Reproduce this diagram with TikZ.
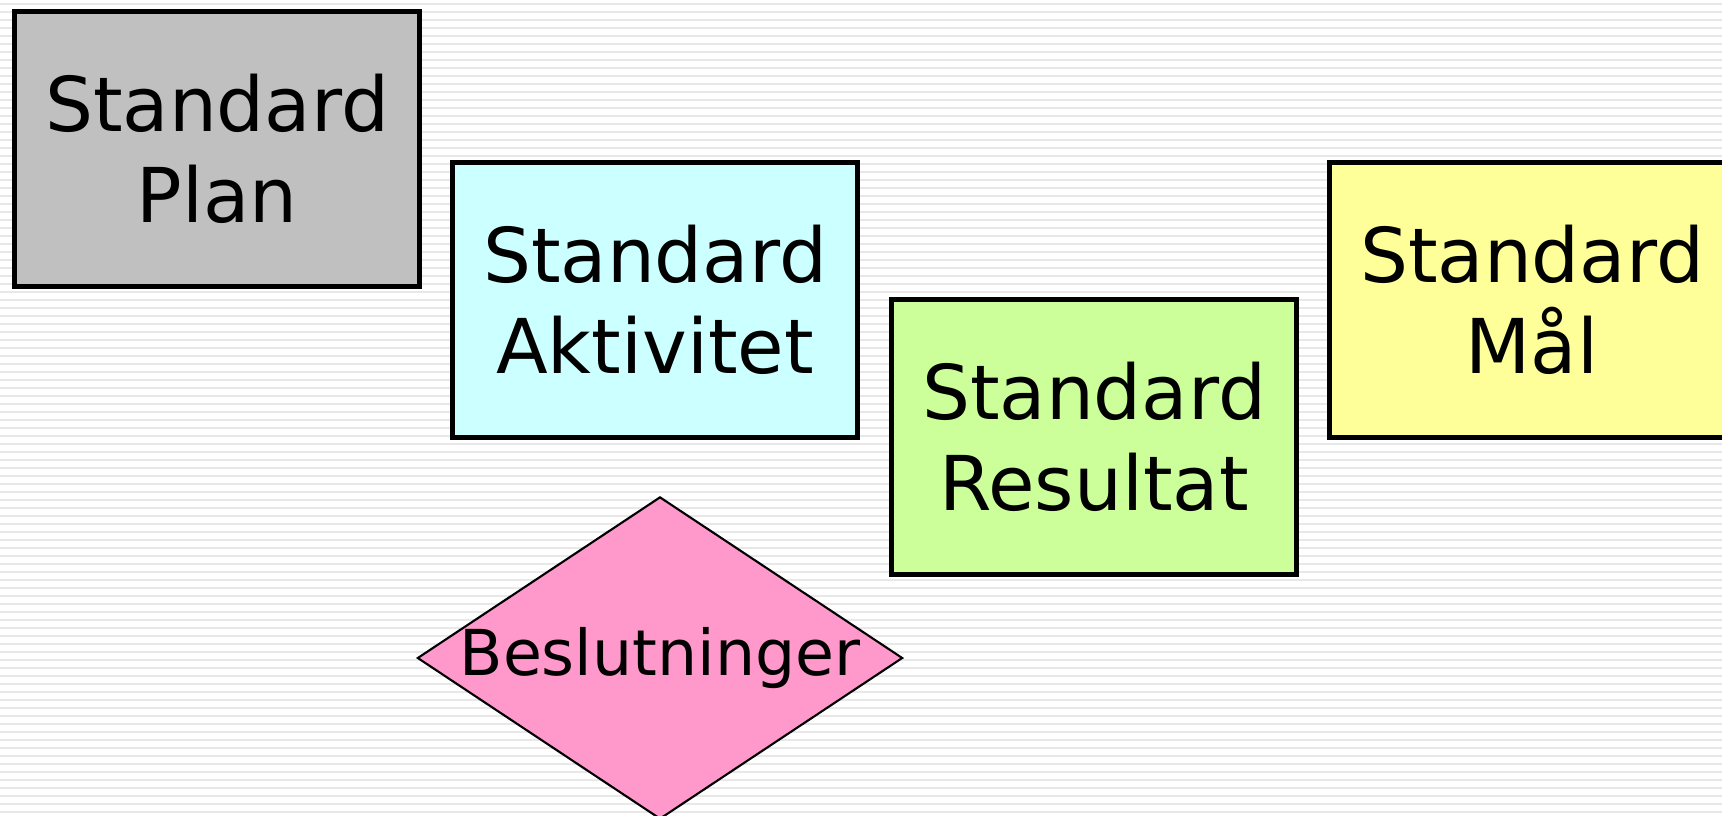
\documentclass[tikz,border=0pt]{standalone}
\usepackage{fontspec}
\setmainfont{DejaVu Sans}
\usetikzlibrary{shapes.geometric}
\begin{document}
\begin{tikzpicture}[x=0.01cm,y=-0.01cm,line join=miter,
		boks/.style={draw=black,line width=1.4pt,rectangle,align=center,minimum width=4.05cm,minimum height=2.74cm,inner sep=0pt,font=\fontsize{21.5}{26}\selectfont},
		rombe/.style={draw=black,line width=0.6pt,diamond,shape aspect=1.506,fill=beslutfarge,minimum width=4.85cm,minimum height=3.22cm,inner sep=-2pt,font=\fontsize{18}{21}\selectfont}]
	
	\definecolor{planfarge}{HTML}{C0C0C0}
	\definecolor{aktfarge}{HTML}{CCFFFF}
	\definecolor{resfarge}{HTML}{CCFF99}
	\definecolor{maalfarge}{HTML}{FFFF99}
	\definecolor{beslutfarge}{HTML}{FF99CC}
	
	\useasboundingbox (0,0) rectangle (1722,816);
	\clip (0,0) rectangle (1722,816);
	% bakgrunn med striper
	\fill[white] (0,0) rectangle (1722,816);
	\foreach \y in {4,12,...,816}
		\draw[gray!18,line width=0.6pt] (0,\y) -- (1722,\y);
	
	\node[boks,fill=planfarge] (plan) at (217,149) {Standard\\Plan};
	\node[boks,fill=aktfarge] (aktivitet) at (655,300) {Standard\\Aktivitet};
	\node[boks,fill=resfarge] (resultat) at (1094,437) {Standard\\Resultat};
	\node[boks,fill=maalfarge] (maal) at (1532,300) {Standard\\Mål};
	\node[rombe] (beslutninger) at (660,658) {Beslutninger};
	
\end{tikzpicture}
\end{document}
